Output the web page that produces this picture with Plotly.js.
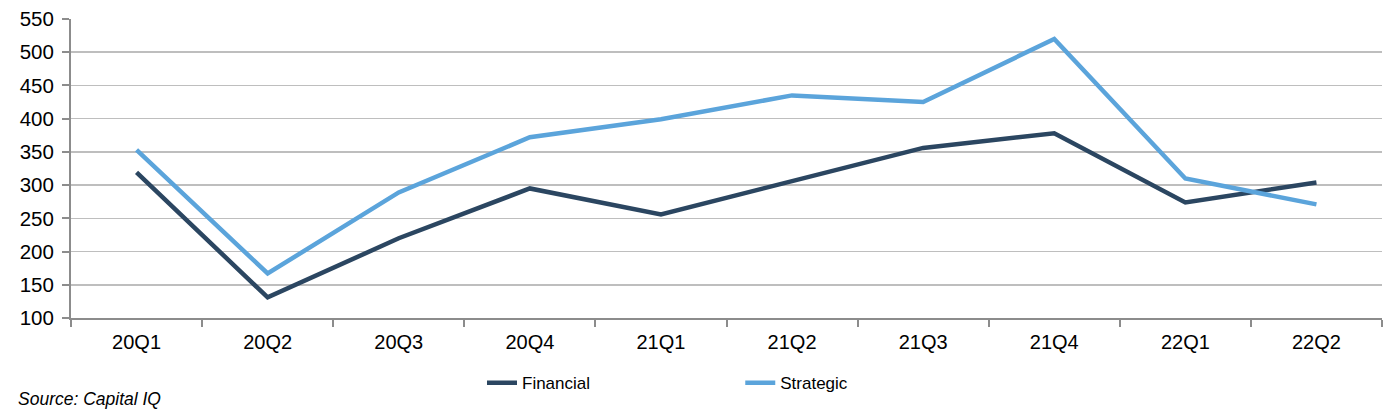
<!DOCTYPE html>
<html>
<head>
<meta charset="utf-8">
<script src="https://cdn.plot.ly/plotly-3.0.1.min.js"></script>
<style>html,body{margin:0;padding:0;background:#fff;}#chart{width:1397px;height:420px;}</style>
</head>
<body>
<div id="chart"></div>
<script>
const quarters = ["20Q1","20Q2","20Q3","20Q4","21Q1","21Q2","21Q3","21Q4","22Q1","22Q2"];
const financial = [319, 131, 220, 295, 256, 306, 356, 378, 274, 304];
const strategic = [353, 167, 289, 372, 399, 435, 425, 520, 310, 271];
const yTicks = [100,150,200,250,300,350,400,450,500,550];

const font = "Liberation Sans, Arial, sans-serif";
const traces = [
  {x: quarters, y: financial, name: "Financial", type: "scatter", mode: "lines",
   line: {color: "#2B4661", width: 4.5}, legend: "legend"},
  {x: quarters, y: strategic, name: "Strategic", type: "scatter", mode: "lines",
   line: {color: "#5BA4DB", width: 4.5}, legend: "legend2"}
];
const legendCommon = {orientation: "h", yanchor: "middle", y: -0.218, xanchor: "left",
  font: {family: font, size: 17, color: "#000"}, bgcolor: "rgba(0,0,0,0)", borderwidth: 0,
  itemwidth: 30, tracegroupgap: 0};
const layout = {
  width: 1397, height: 420,
  margin: {l: 71, r: 15, t: 19, b: 102},
  paper_bgcolor: "#fff", plot_bgcolor: "#fff",
  showlegend: true,
  legend: Object.assign({}, legendCommon, {x: 0.3135}),
  legend2: Object.assign({}, legendCommon, {x: 0.5105}),
  xaxis: {type: "category", range: [-0.5, 9.5], tickson: "boundaries",
    ticks: "outside", ticklen: 7, tickwidth: 2, tickcolor: "#8C8C8C",
    showline: true, linecolor: "#8C8C8C", linewidth: 2, showgrid: false,
    tickfont: {family: font, size: 20, color: "#000"}, ticklabelstandoff: 5, fixedrange: true},
  yaxis: {range: [100, 550], tickvals: yTicks, ticks: "outside", ticklen: 7, tickwidth: 2,
    tickcolor: "#8C8C8C", showline: true, linecolor: "#8C8C8C", linewidth: 2,
    showgrid: true, gridcolor: "#BEBEBE", gridwidth: 1.5, zeroline: false,
    tickfont: {family: font, size: 20.5, color: "#000"}, ticklabelstandoff: 4},
  annotations: [{text: "<i>Source: Capital IQ</i>", xref: "paper", yref: "paper",
    x: (16 - 71)/1311, xanchor: "left", y: -0.27, yanchor: "middle", yshift: 0, showarrow: false,
    font: {family: font, size: 17.5, color: "#000"}}]
};
Plotly.newPlot("chart", traces, layout, {displayModeBar: false, staticPlot: true});
</script>
</body>
</html>
